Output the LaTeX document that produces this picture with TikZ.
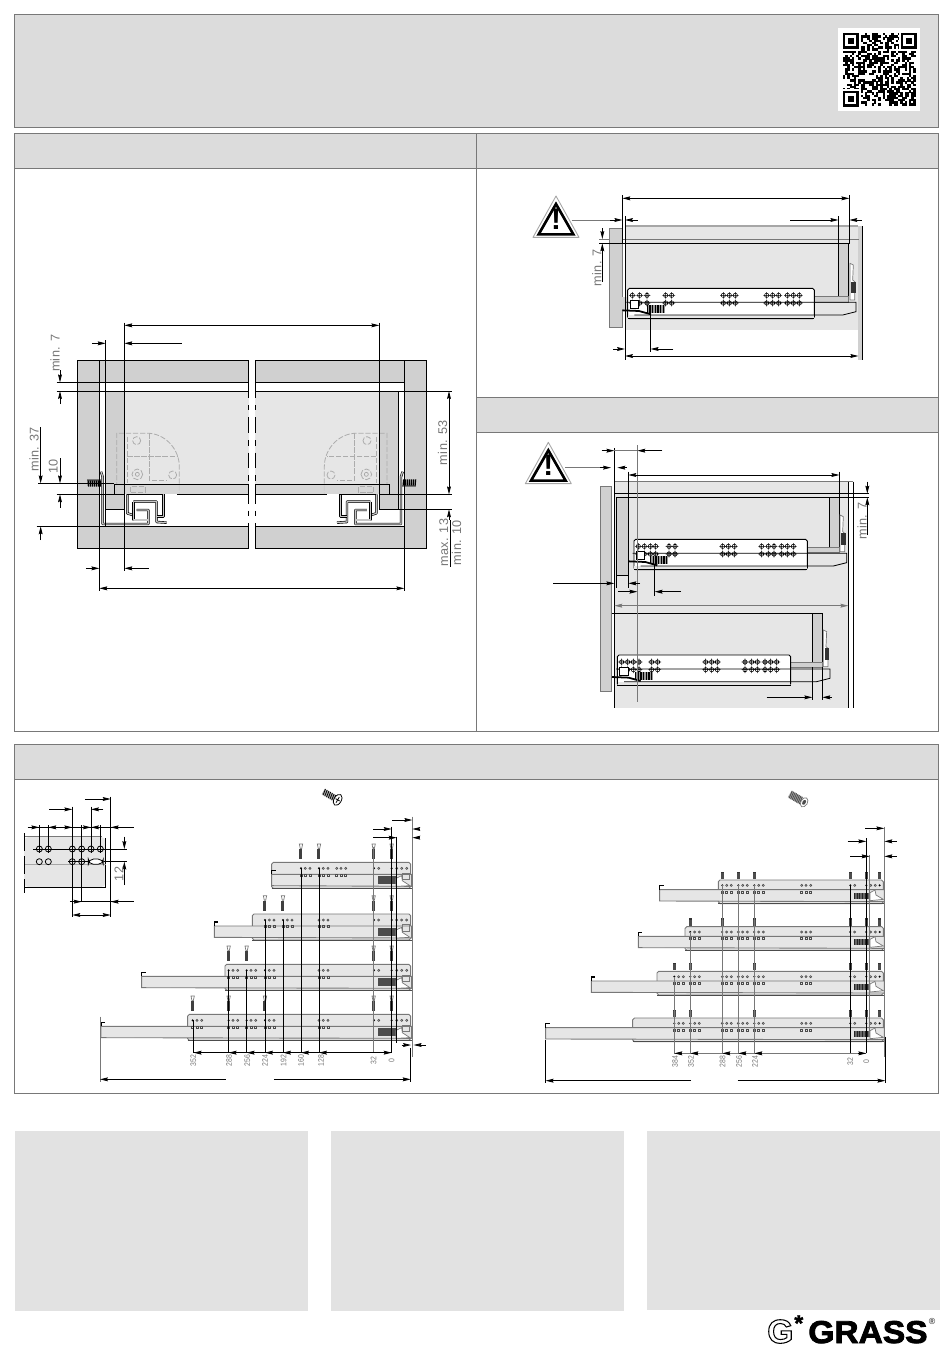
\documentclass[tikz,border=0pt]{standalone}
\usepackage{fontspec}
\setsansfont[LetterSpace=3]{Liberation Sans}
\newfontfamily\logofont[UprightFont=* Bold,FakeStretch=1.06,FakeBold=2.6]{Liberation Sans}
\newfontfamily\logothin[UprightFont=* Bold,FakeBold=1.5]{Liberation Sans}
\newfontfamily\logoplain[UprightFont=* Bold]{Liberation Sans}
\usepackage{xcolor}
\usetikzlibrary{arrows.meta, calc}
\definecolor{headgray}{RGB}{220,220,220}
\definecolor{linegray}{RGB}{120,120,120}
\definecolor{notegray}{RGB}{226,226,226}
\definecolor{woodgray}{RGB}{208,208,208}
\definecolor{cabgray}{RGB}{230,230,230}
\definecolor{labelgray}{RGB}{118,118,118}
\tikzset{
    panelbox/.style={draw=linegray, line width=.5pt},
    headbox/.style={fill=headgray, draw=linegray, line width=.5pt},
    notebox/.style={fill=notegray},
    woodbox/.style={fill=woodgray, draw=black, line width=.4pt},
    woodsoft/.style={fill=woodgray, draw=linegray, line width=.4pt},
    cabfill/.style={fill=cabgray},
    thinline/.style={draw=black, line width=.45pt},
    softline/.style={draw=linegray, line width=.4pt},
    dimin/.style={draw=black, line width=.45pt, -{Stealth[length=4.5pt,width=2.2pt,inset=.6pt]}},
    dimboth/.style={draw=black, line width=.45pt, {Stealth[length=4.5pt,width=2.2pt,inset=.6pt]}-{Stealth[length=4.5pt,width=2.2pt,inset=.6pt]}},
    dimsoft/.style={dimboth, draw=linegray},
    ghostline/.style={draw=gray!65, line width=.45pt, dash pattern=on 3pt off 1pt},
    profile/.style={draw=black, double=gray!45, line width=.35pt, double distance=.7pt, line join=round},
    breakline/.style={draw=black, line width=.45pt, dash pattern=on 9pt off 4pt on 3pt off 4pt},
    platebox/.style={fill=cabgray, draw=linegray, line width=.5pt, rounded corners=1pt},
    slidebox/.style={fill=cabgray, draw=linegray, line width=.5pt},
    labeltext/.style={font=\sffamily\fontsize{7.2}{8}\selectfont, text=labelgray, rotate=90, inner sep=0pt},
    ticktext/.style={font=\sffamily\fontsize{4.6}{5}\selectfont, text=labelgray, rotate=90, xscale=.85, inner sep=0pt},
}
% crossed hole with centre lines
\newcommand{\crossholes}[2]{
    \foreach \hx in {#1} \foreach \hy in {#2} {
        \draw[thinline, line width=.3pt] (\hx,\hy) circle (6.5) (\hx-10,\hy) -- (\hx+10,\hy) (\hx,\hy-10) -- (\hx,\hy+10);
    }
}
% warning sign, centre of its base at (#1,#2)
\newcommand{\warnsign}[3]{
    \draw[draw=gray!70, fill=white, line width=.5pt, line join=round] (#1,#2-124) -- (#1+69,#2) -- (#1-69,#2) -- cycle;
    \draw[draw=black, line width=1.5pt, line join=miter] (#1,#2-100) -- (#1+52,#2-9) -- (#1-52,#2-9) -- cycle;
    \node[inner sep=0pt, font=\bfseries\sffamily\fontsize{17}{17}\selectfont] (#3) at (#1,#2-55) {!};
}
% half of the cross-section, drawn again mirrored
\newcommand{\crosshalf}{
    \draw[woodbox] (172,122) rectangle (238,685);
    \draw[woodbox] (238,122) rectangle (686,187);
    \draw[woodbox] (238,619) rectangle (686,685);
    \fill[cabgray] (313,213) rectangle (686,493);
    \draw[woodbox, fill=woodgray] (257,213) -- (313,213) -- (313,568) -- (257,568) -- cycle;
    \draw[ghostline] (290,523) -- (290,340) -- (390,340) .. controls (440,345) and (478,390) .. (478,440) -- (478,523);
    \draw[ghostline] (388,340) -- (388,480) -- (440,480);
    \draw[ghostline] (322,350) -- (322,490);
    \draw[ghostline] (322,408) -- (470,408);
    \draw[ghostline] (352,463) circle (16) (458,465) circle (12) (350,362) circle (12);
    \draw[draw=gray!70, line width=.4pt] (352,463) circle (6);
    \draw[woodbox, fill=woodgray, fill opacity=.85] (283,493) rectangle (686,523);
    \draw[ghostline] (330,500) rectangle (375,518);
    \fill[white] (313,523) rectangle (470,619);
    \draw[profile] (243,455) -- (248,470) -- (248,612) -- (385,612) -- (385,570) -- (350,570);
    \draw[profile] (322,523) -- (322,580) -- (338,585);
    \draw[profile] (340,545) -- (410,545) -- (410,606) -- (440,608);
    \draw[profile] (340,545) -- (340,600) -- (385,600);
    \draw[profile] (430,523) -- (430,590) -- (410,590);
    \draw[thinline] (322,523) -- (430,523);
    \fill[gray!60] (202,479) rectangle (240,499);
    \foreach \tx in {204,210,...,240} { \draw[thinline, line width=.7pt] (\tx,478) -- (\tx+2,500); }
    \draw[breakline] (686,187) -- (686,619);
}
% slide seen from the side
\newcommand{\slideunit}[6]{
    \draw[fill=white, draw=black, line width=.5pt, rounded corners=1pt] (#1,#3) rectangle (#2,#3+91);
    \fill[cabgray] (#1+1,#3+80) rectangle (#2-1,#3+91);
    \draw[thinline] (#1-4,#3+42) -- (#6,#3+42) -- (#6,#3+70) -- (#6-40,#3+80) -- (#1+20,#3+80);
    \draw[thinline, line width=.7pt] (#1,#3+91) -- (#2,#3+91);
    \crossholes{#4}{#3+21,#3+44}
    \fill[gray!80] (#5,#3+50) rectangle (#5+55,#3+74);
    \foreach \bx in {0,8,...,48} { \fill[black] (#5+\bx,#3+50) rectangle (#5+\bx+4,#3+74); }
    \draw[fill=white, thinline] (#1+7,#3+37) rectangle (#1+32,#3+60);
    \draw[thinline, line width=1pt] (#1-16,#3+66) -- (#1+34,#3+68) -- (#1+70,#3+78);
}
% hardware at the back of the drawer
\newcommand{\backfit}[2]{
    \draw[softline, fill=white] (#1,#2) -- (#1+10,#2+5) -- (#1+8,#2+50) -- (#1+14,#2+55) -- (#1+14,#2+110) -- (#1,#2+110) -- cycle;
    \fill[black!80] (#1+4,#2+55) rectangle (#1+17,#2+90);
}
% hole groups on the long slides
\newcommand{\holefull}[2]{
    \fill[black] (#1,#2) circle (3.4);
    \draw[softline, draw=black!70, line width=.35pt] (#1+13,#2) circle (3.2) (#1+27,#2) circle (3.2);
    \foreach \gi in {0,13,27} { \draw[softline, draw=black!70, line width=.35pt] (#1+\gi-3,#2+17) rectangle (#1+\gi+3,#2+23); }
}
\newcommand{\holeopen}[2]{
    \draw[softline, draw=black!70, line width=.35pt] (#1,#2) circle (3.2) (#1+13,#2) circle (3.2) (#1+27,#2) circle (3.2);
    \foreach \gi in {0,13,27} { \draw[softline, draw=black!70, line width=.35pt] (#1+\gi-3,#2+17) rectangle (#1+\gi+3,#2+23); }
}
\newcommand{\longscrew}[2]{
    \draw[softline, fill=white] (#1-5,#2) -- (#1+5,#2) -- (#1+2,#2+14) -- (#1-2,#2+14) -- cycle;
    \fill[black!75] (#1-4.5,#2+16) rectangle (#1+4.5,#2+46);
}
\newcommand{\stubscrew}[2]{
    \fill[black!80] (#1-5,#2) rectangle (#1+5,#2+4);
    \fill[black!70] (#1-4,#2+4) rectangle (#1+4,#2+22);
}
\newcommand{\wideslide}[5]{
    \draw[platebox] (#2,#1) rectangle (#5,#1+#4);
    \draw[slidebox] (#3,#1+#4-42) -- (#5+3,#1+#4-42) -- (#5+3,#1+#4-6) -- (#3,#1+#4-8) -- cycle;
    \draw[thinline, line width=.7pt] (#3,#1+#4-42) -- (#3,#1+#4-54) -- (#3+12,#1+#4-54);
    \draw[draw=black!70, line width=.55pt] (#2,#1+#4) -- (#5+3,#1+#4);
}
\begin{document}
\begin{tikzpicture}[x=0.02cm, y=-0.02cm]
    \useasboundingbox (0,0) rectangle (950,1353);

    % --- TOP BOX AND QR CODE ---
    \draw[headbox] (14,14) rectangle (938,127);
    \fill[white] (838,28) rectangle (920,111);
    \pgfmathsetseed{11}
    \foreach \qx in {0,...,32} \foreach \qy in {0,...,32} {
        \pgfmathtruncatemacro{\qbit}{rnd<0.5 ? 1 : 0}
        \ifnum\qbit=1
            \fill[black] (843+2.2*\qx,33+2.2*\qy) rectangle +(2.3,2.3);
        \fi
    }
    \foreach \qx/\qy in {843/33,901/33,843/91} {
        \fill[white] (\qx-2,\qy-2) rectangle +(19.5,19.5);
        \draw[black, line width=1.2pt] (\qx+1,\qy+1) rectangle +(13.5,13.5);
        \fill[black] (\qx+4.5,\qy+4.5) rectangle +(6.6,6.6);
    }

    % --- PANELS ---
    \draw[panelbox] (14,133) rectangle (476,731);
    \draw[panelbox] (476,133) rectangle (938,731);
    \draw[headbox] (14,133) rectangle (476,168);
    \draw[headbox] (476,133) rectangle (938,168);
    \draw[headbox] (476,397) rectangle (938,432);
    \draw[panelbox] (14,744) rectangle (938,1093);
    \draw[headbox] (14,744) rectangle (938,779);
    \fill[notegray] (15,1131) rectangle (308,1311);
    \fill[notegray] (331,1131) rectangle (624,1311);
    \fill[notegray] (647,1131) rectangle (940,1310);

    % --- CROSS-SECTION ---
    \begin{scope}[shift={(20,320)}, scale=1/3]
        \crosshalf
        \begin{scope}[shift={(1391,0)}, xscale=-1]
            \crosshalf
        \end{scope}
        % reference lines
        \draw[thinline] (110,187) -- (686,187) (705,187) -- (1150,187);
        \draw[thinline] (110,213) -- (686,213) (705,213) -- (1295,213);
        \draw[thinline] (110,523) -- (283,523) (1106,523) -- (1295,523);
        \draw[thinline] (55,490) -- (283,490);
        \draw[thinline] (50,619) -- (238,619);
        \draw[thinline] (1135,568) -- (1295,568);
        \draw[thinline] (238,122) -- (238,812) (1153,122) -- (1153,812);
        \draw[thinline] (257,60) -- (257,620);
        \draw[thinline] (313,8) -- (313,752);
        \draw[thinline] (1078,8) -- (1078,523);
        % dimensions
        \draw[dimboth] (313,16) -- (1078,16);
        \draw[dimin] (216,70) -- (257,70);
        \draw[dimin] (485,70) -- (313,70);
        \draw[dimin] (120,150) -- (120,187);
        \draw[dimin] (120,252) -- (120,213);
        \draw[dimin] (120,415) -- (120,490);
        \draw[dimin] (120,563) -- (120,523);
        \draw[dimin] (62,322) -- (62,490);
        \draw[dimin] (62,660) -- (62,619);
        \draw[dimin] (198,745) -- (238,745);
        \draw[dimin] (387,745) -- (313,745);
        \draw[dimboth] (238,805) -- (1153,805);
        \draw[dimboth] (1287,213) -- (1287,523);
        \draw[dimin] (1287,600) -- (1287,568);
        \draw[thinline] (1290,600) -- (1290,740);
        \node[labeltext] (cutseven) at (105,100) {min. 7};
        \node[labeltext] (cutthirtyseven) at (42,388) {min. 37};
        \node[labeltext] (cutten) at (100,440) {10};
        \node[labeltext] (cutfiftythree) at (1268,368) {min. 53};
        \node[labeltext] (cutmaxthirteen) at (1271,668) {max. 13};
        \node[labeltext] (cutminten) at (1310,668) {min. 10};
    \end{scope}

    % --- SIDE VIEW, TOP ---
    \begin{scope}[shift={(500,180)}, scale=1/3]
        \fill[cabgray] (375,138) rectangle (1075,450);
        \draw[draw=gray!70, line width=.7pt] (375,138) -- (1075,138);
        \fill[woodgray] (1075,138) rectangle (1088,540);
        \draw[thinline] (1088,138) -- (1088,540);
        \draw[softline] (298,177) -- (1078,177);
        \draw[woodsoft] (328,145) rectangle (367,443);
        \fill[woodgray] (367,350) rectangle (385,390);
        \draw[woodbox] (1015,190) rectangle (1045,350);
        \draw[woodsoft] (943,350) rectangle (1045,368);
        \draw[thinline] (298,190) -- (1048,190);
        \draw[thinline] (367,45) -- (367,190);
        \draw[thinline] (1048,45) -- (1048,190) -- (1045,190);
        \draw[thinline] (375,108) -- (375,540);
        \draw[thinline] (1015,108) -- (1015,190);
        \backfit{1050}{250}
        \slideunit{383}{943}{325}{397,419,441,497,515,670,688,706,800,818,836,862,880,898}{440}{1068}
        \draw[thinline] (452,395) -- (452,517);
        \draw[dimboth] (367,55) -- (1048,55);
        \draw[softline] (215,120) -- (340,120);
        \draw[dimin] (330,120) -- (367,120);
        \draw[dimin] (413,120) -- (375,120);
        \draw[dimin] (870,120) -- (1015,120);
        \draw[dimin] (1085,120) -- (1048,120);
        \draw[dimin] (307,145) -- (307,177);
        \draw[dimin] (307,305) -- (307,190);
        \draw[dimin] (340,507) -- (375,507);
        \draw[dimin] (520,507) -- (452,507);
        \draw[dimboth] (375,528) -- (1075,528);
        \node[labeltext] (sideseven) at (290,263) {min. 7};
        \warnsign{168}{172}{sidewarn}
    \end{scope}

    % --- SIDE VIEW, BOTTOM ---
    \begin{scope}[shift={(500,435)}, scale=1/3]
        \fill[cabgray] (343,140) rectangle (1045,818);
        \fill[white] (1045,140) rectangle (1060,818);
        \draw[softline] (343,140) -- (1060,140);
        \draw[thinline] (1045,140) -- (1045,818) (1060,140) -- (1060,818);
        \draw[woodsoft] (300,153) rectangle (335,768);
        \draw[thinline] (343,40) -- (343,818);
        \draw[thinline] (343,176) -- (1108,176);
        \draw[thinline] (1018,187) -- (1108,187);
        \draw[woodbox] (349,187) rectangle (385,420);
        \draw[thinline] (349,187) -- (1018,187);
        \draw[woodbox] (988,187) rectangle (1018,338);
        \draw[woodsoft] (922,338) rectangle (1018,352);
        \draw[thinline] (385,110) -- (385,187) (1018,110) -- (1018,187);
        \backfit{1020}{240}
        \slideunit{402}{922}{313}{415,433,451,467,507,525,668,685,703,785,805,822,845,862,880}{450}{1040}
        \draw[thinline] (349,420) -- (349,460) (385,420) -- (385,460);
        \draw[thinline] (464,390) -- (464,482);
        % lower drawer
        \draw[thinline] (335,535) -- (967,535);
        \draw[woodbox] (937,535) rectangle (967,685);
        \draw[woodsoft] (872,683) rectangle (967,697);
        \backfit{970}{585}
        \slideunit{352}{872}{660}{365,383,400,417,455,473,617,635,652,735,755,772,795,812,830}{405}{990}
        \draw[softline] (412,30) -- (412,800);
        \draw[thinline] (937,697) -- (937,795) (967,697) -- (967,795);
        % dimensions
        \draw[dimin] (305,47) -- (343,47);
        \draw[dimin] (487,47) -- (412,47);
        \draw[softline] (343,47) -- (412,47);
        \draw[softline] (195,98) -- (320,98);
        \draw[dimin] (300,98) -- (333,98);
        \draw[dimin] (380,98) -- (352,98);
        \draw[dimboth] (385,120) -- (1018,120);
        \draw[dimin] (160,445) -- (343,445);
        \draw[dimin] (420,445) -- (385,445);
        \draw[dimin] (355,470) -- (412,470);
        \draw[dimin] (543,470) -- (464,470);
        \draw[dimsoft] (343,512) -- (1045,512);
        \draw[dimin] (800,787) -- (937,787);
        \draw[dimin] (995,787) -- (967,787);
        \draw[dimin] (1102,140) -- (1102,176);
        \draw[dimin] (1102,300) -- (1102,187);
        \node[labeltext] (upperseven) at (1086,258) {min. 7};
        \warnsign{145}{146}{upperwarn}
    \end{scope}

    % --- HOLE DETAIL AND LEFT STACK ---
    \begin{scope}[shift={(15,780)}, scale=1/3]
        \fill[cabgray, rounded corners=3pt] (27,170) -- (272,170) -- (272,322) -- (27,322) -- cycle;
        \draw[thinline] (27,322) -- (272,322) -- (272,175);
        \draw[softline] (27,170) -- (262,170);
        \draw[draw=gray!70, line width=.8pt] (27,253) -- (272,253);
        \draw[thinline, dash pattern=on 10pt off 3pt] (27,160) -- (27,340);
        \foreach \dx in {73,100} { \draw[thinline] (\dx,135) -- (\dx,220); }
        \draw[thinline] (172,80) -- (172,410) (200,135) -- (200,365) (228,80) -- (228,220) (256,135) -- (256,220) (287,50) -- (287,410);
        \draw[thinline] (55,207) -- (335,207) (160,245) -- (335,245);
        \foreach \dx in {73,100,172,200,228,256} { \draw[thinline] (\dx,207) circle (9); }
        \foreach \dx in {73,100,172,200} { \draw[thinline] (\dx,245) circle (9); }
        \foreach \dx in {172,200} { \draw[thinline] (\dx,233) -- (\dx,257); }
        \draw[thinline, fill=white, rounded corners=3pt] (220,237) rectangle (265,253);
        \draw[thinline] (38,142) -- (358,142);
        \draw[dimin] (40,142) -- (73,142);
        \draw[dimin] (132,142) -- (100,142);
        \draw[dimin] (140,142) -- (172,142);
        \draw[dimin] (200,142) -- (228,142);
        \draw[dimin] (256,142) -- (228,142);
        \draw[dimin] (335,142) -- (287,142);
        \draw[dimin] (103,88) -- (172,88);
        \draw[dimin] (265,88) -- (228,88);
        \draw[dimin] (210,57) -- (287,57);
        \draw[thinline] (165,365) -- (358,365);
        \draw[dimin] (170,365) -- (200,365);
        \draw[dimin] (335,365) -- (287,365);
        \draw[dimboth] (172,405) -- (287,405);
        \draw[dimin] (328,170) -- (328,207);
        \draw[dimin] (328,315) -- (328,245);
        \node[labeltext] (holetwelve) at (312,282) {12};
        % screw
        \begin{scope}[shift={(955,52)}, rotate=-30]
            \fill[gray!65] (-35,-9) rectangle (5,9);
            \foreach \tx in {-33,-27,...,3} { \draw[thinline] (\tx,-10) -- (\tx+3,10); }
            \draw[thinline, fill=white] (15,0) ellipse (11 and 18);
            \draw[thinline] (8,0) -- (22,0) (15,-10) -- (15,10);
        \end{scope}
        % slides
        \foreach \rowy/\plx/\slx in {247/770/770, 402/712/598, 553/630/380, 703/518/258} {
            \wideslide{\rowy}{\plx}{\slx}{78}{1187}
            \foreach \kx in {1076,1130} { \longscrew{\kx}{\rowy-55} }
            \fill[black] (1077,\rowy+18) circle (3.4) (1130,\rowy+18) circle (3.4);
            \draw[softline, draw=black!70, line width=.35pt] (1091,\rowy+18) circle (3.2) (1145,\rowy+18) circle (3.2) (1160,\rowy+18) circle (3.2) (1175,\rowy+18) circle (3.2);
            \fill[black!70] (1090,\rowy+42) rectangle (1143,\rowy+65);
            \draw[softline, fill=white] (1143,\rowy+48) -- (1160,\rowy+40) -- (1162,\rowy+55) -- (1185,\rowy+70) -- (1143,\rowy+72) -- cycle;
            \draw[softline] (1162,\rowy+32) rectangle (1182,\rowy+52);
        }
        \foreach \gx in {858,912} { \holefull{\gx}{265} \longscrew{\gx}{192} }
        \holeopen{965}{265}
        \foreach \gx in {750,804} { \holefull{\gx}{420} \longscrew{\gx}{347} }
        \holeopen{912}{420}
        \foreach \gx in {641,695,750} { \holefull{\gx}{571} }
        \foreach \gx in {641,695} { \longscrew{\gx}{498} }
        \holeopen{912}{571}
        \foreach \gx in {533,641,695,750} { \holefull{\gx}{721} }
        \foreach \gx in {533,641,750} { \longscrew{\gx}{648} }
        \holeopen{912}{721}
        % dimension lines
        \draw[thinline] (536,721) -- (536,818) (641,571) -- (641,818) (695,571) -- (695,818) (750,420) -- (750,818) (804,420) -- (804,818) (858,265) -- (858,818) (912,265) -- (912,818);
        \draw[softline] (1076,200) -- (1076,818);
        \draw[thinline] (1130,140) -- (1130,818);
        \draw[thinline] (1145,170) -- (1145,790);
        \draw[softline] (1192,110) -- (1192,830);
        \draw[softline] (255,710) -- (255,905);
        \draw[thinline] (1187,805) -- (1187,905);
        \draw[thinline] (536,818) -- (1130,818);
        \foreach \ax in {641,695,750,804,858,912} { \draw[dimin] (\ax+25,818) -- (\ax,818); }
        \draw[dimin] (575,818) -- (536,818);
        \draw[dimin] (1100,818) -- (1130,818);
        \draw[dimin] (1132,120) -- (1192,120);
        \draw[dimin] (1075,147) -- (1130,147);
        \draw[dimin] (1215,147) -- (1192,147);
        \draw[dimin] (1075,173) -- (1145,173);
        \draw[dimin] (1215,173) -- (1192,173);
        \draw[dimin] (1160,795) -- (1188,795);
        \draw[dimin] (1232,795) -- (1196,795);
        \draw[dimin] (632,898) -- (255,898);
        \draw[dimin] (777,898) -- (1187,898);
        \foreach \lx/\lv in {535/352, 642/288, 697/256, 750/224, 806/192, 858/160, 918/128, 1076/32, 1130/0} {
            \node[ticktext] (tickleft\lv) at (\lx,842) {\lv};
        }
    \end{scope}

    % --- RIGHT STACK ---
    \begin{scope}[shift={(530,780)}, scale=1/3]
        \begin{scope}[shift={(805,57)}, rotate=-30]
            \fill[gray!70] (-30,-11) rectangle (10,11);
            \foreach \tx in {-28,-23,...,8} { \draw[thinline, draw=black!70] (\tx,-12) -- (\tx+3,12); }
            \draw[softline, fill=white] (20,0) ellipse (10 and 15);
            \fill[black!70] (20,0) ellipse (5 and 8);
        \end{scope}
        \foreach \rowy/\plx/\slx in {300/565/389, 440/465/325, 574/381/184, 714/308/47} {
            \wideslide{\rowy}{\plx}{\slx}{71}{1060}
            \foreach \kx in {961,1009,1049} { \stubscrew{\kx}{\rowy-25} }
            \fill[black] (961,\rowy+16) circle (3.4) (1009,\rowy+16) circle (3.4) (1049,\rowy+16) circle (3.4);
            \draw[softline, draw=black!70, line width=.35pt] (974,\rowy+16) circle (3.2) (1022,\rowy+16) circle (3.2) (1036,\rowy+16) circle (3.2);
            \foreach \gi in {0,13,27} { \draw[softline, draw=black!70, line width=.35pt] (815+\gi,\rowy+16) circle (3.2); \draw[softline, draw=black!70, line width=.35pt] (815+\gi-3,\rowy+33) rectangle (815+\gi+3,\rowy+39); }
            \fill[black!60] (972,\rowy+38) rectangle (1020,\rowy+56);
            \foreach \bx in {0,8,...,40} { \fill[black!85] (972+\bx,\rowy+38) rectangle (975+\bx,\rowy+56); }
            \draw[softline, fill=white] (1020,\rowy+38) -- (1035,\rowy+30) -- (1038,\rowy+45) -- (1060,\rowy+58) -- (1020,\rowy+62) -- cycle;
        }
        \foreach \gx in {577,625,673} { \holefull{\gx}{316} \stubscrew{\gx}{275} }
        \foreach \gx in {481,577,673} { \holefull{\gx}{456} \stubscrew{\gx}{415} }
        \holeopen{625}{456}
        \foreach \gy in {590,730} {
            \foreach \gx in {433,481,673} { \holefull{\gx}{\gy} \stubscrew{\gx}{\gy-41} }
            \holeopen{577}{\gy}
            \holeopen{625}{\gy}
        }
        \draw[softline] (433,590) -- (433,820) (481,456) -- (481,820);
        \draw[softline] (577,316) -- (577,820) (625,316) -- (625,820) (673,316) -- (673,820);
        \draw[thinline] (961,316) -- (961,820);
        \draw[thinline] (1009,175) -- (1009,820);
        \draw[softline] (1019,225) -- (1019,770);
        \draw[softline] (1063,140) -- (1063,830);
        \draw[thinline] (1066,770) -- (1066,908);
        \draw[thinline] (47,780) -- (47,908);
        \draw[softline] (433,820) -- (1009,820);
        \foreach \ax in {433,481,577,625,673} { \draw[dimin] (\ax+22,820) -- (\ax,820); }
        \draw[dimin] (985,820) -- (1009,820);
        \draw[dimin] (1005,145) -- (1063,145);
        \draw[dimin] (953,184) -- (1009,184);
        \draw[dimin] (1100,184) -- (1063,184);
        \draw[dimin] (960,229) -- (1019,229);
        \draw[dimin] (1100,229) -- (1063,229);
        \draw[dimin] (483,902) -- (47,902);
        \draw[dimin] (623,902) -- (1066,902);
        \foreach \lx/\lv in {435/384, 483/352, 578/288, 627/256, 675/224, 961/32, 1009/0} {
            \node[ticktext] (tickright\lv) at (\lx,846) {\lv};
        }
    \end{scope}

    % --- LOGO ---
    \node[anchor=base west, inner sep=0pt, font=\logofont\fontsize{18}{18}\selectfont] (logoname) at (808,1343) {GRASS};
    \node[anchor=base west, inner sep=0pt, font=\logothin\fontsize{13}{13}\selectfont] (logostar) at (794,1331) {*};
    \node[anchor=center, inner sep=0pt, font=\logoplain\fontsize{5}{5}\selectfont, text=black!75] (logoreg) at (932,1321) {®};
    \node[anchor=base west, inner sep=0pt, font=\logoplain\fontsize{19}{19}\selectfont] (logoletter) at (767,1343) {\special{pdf:code 1 Tr 0.6 w}G\special{pdf:code 0 Tr}};
\end{tikzpicture}
\end{document}
